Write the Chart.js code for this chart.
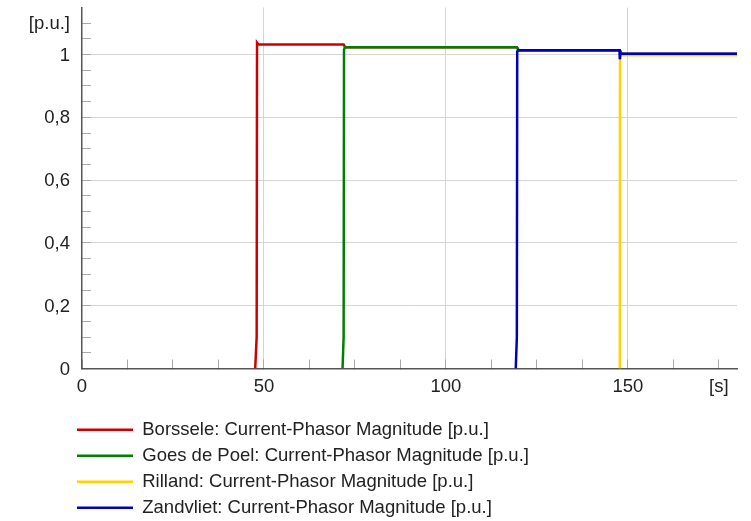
<!DOCTYPE html>
<html>
<head>
<meta charset="utf-8">
<title>Current-Phasor Magnitude</title>
<script src="https://cdn.jsdelivr.net/npm/chart.js@4/dist/chart.umd.min.js"></script>
<style>
  html, body { margin: 0; padding: 0; background: #fff; }
  #wrap { width: 751px; height: 521px; position: relative; }
</style>
</head>
<body>
<div id="wrap"><canvas id="phasorChart"></canvas></div>
<script>
// time [s] / magnitude [p.u.] samples per substation
const borsseleT = [47.6, 48.0, 48.1, 48.5, 60, 71.9, 72.3, 119.5, 120.0, 147.8, 148.3, 180];
const borsseleI = [0, 0.1, 1.038, 1.032, 1.032, 1.032, 1.023, 1.023, 1.014, 1.014, 1.002, 1.002];

const goesT = [71.6, 71.9, 72.0, 72.3, 119.5, 120.0, 147.8, 148.3, 180];
const goesI = [0, 0.1, 1.016, 1.023, 1.023, 1.014, 1.014, 1.002, 1.002];

const rillandT = [147.8, 147.85, 148.0, 180];
const rillandI = [0, 0.99, 0.998, 0.998];

const zandvlietT = [119.2, 119.5, 119.6, 119.9, 147.7, 147.8, 147.9, 148.3, 180];
const zandvlietI = [0, 0.1, 1.01, 1.014, 1.014, 0.985, 1.0, 1.003, 1.003];

const seriesNames = [
  'Borssele: Current-Phasor Magnitude [p.u.]',
  'Goes de Poel: Current-Phasor Magnitude [p.u.]',
  'Rilland: Current-Phasor Magnitude [p.u.]',
  'Zandvliet: Current-Phasor Magnitude [p.u.]'
];

const xTickValues = [0, 12.5, 25, 37.5, 50, 62.5, 75, 87.5, 100, 112.5, 125, 137.5, 150, 162.5, 175];
const xTickLabels = ['0', '', '', '', '50', '', '', '', '100', '', '', '', '150', '', '[s]'];
const xGridValues = [50, 100, 150];

const yTickValues = [0, 0.05, 0.1, 0.15, 0.2, 0.25, 0.3, 0.35, 0.4, 0.45, 0.5, 0.55,
  0.6, 0.65, 0.7, 0.75, 0.8, 0.85, 0.9, 0.95, 1, 1.05, 1.1];
const yTickLabels = ['0', '', '', '', '0,2', '', '', '', '0,4', '', '', '', '0,6', '', '', '',
  '0,8', '', '', '', '1', '', '[p.u.]'];
const yGridValues = [0.2, 0.4, 0.6, 0.8, 1];

const colors = ['#cc0000', '#008000', '#ffd200', '#0000bb'];

function toPoints(ts, vs) {
  return ts.map((t, i) => ({ x: t, y: vs[i] }));
}

const series = [
  toPoints(borsseleT, borsseleI),
  toPoints(goesT, goesI),
  toPoints(rillandT, rillandI),
  toPoints(zandvlietT, zandvlietI)
];

const textFont = { family: "'Liberation Sans', Arial, sans-serif", size: 18.5 };

// legend sits under the plot area (one entry per row), nudged a bit left
const legendIndent = {
  id: 'legendIndent',
  afterLayout(chart) {
    if (chart.legend) chart.legend.left = 69.5;
  }
};

// no extra room for edge labels, the layout padding handles it
function noScalePadding(scale) {
  scale.paddingTop = 0;
  scale.paddingBottom = 0;
  scale.paddingLeft = 0;
  scale.paddingRight = 0;
}

window.onload = () => {
  const ctx = document.getElementById('phasorChart').getContext('2d');
  new Chart(ctx, {
    type: 'line',
    data: {
      datasets: series.map((pts, i) => ({
        label: seriesNames[i],
        data: pts,
        borderColor: colors[i],
        backgroundColor: colors[i],
        borderWidth: 2.5,
        pointRadius: 0,
        tension: 0,
        fill: false,
        // later stations are drawn on top
        order: series.length - i
      }))
    },
    options: {
      responsive: true,
      maintainAspectRatio: false,
      animation: false,
      layout: { padding: { top: 7.5, left: 0, right: 14, bottom: 0 } },
      scales: {
        x: {
          type: 'linear',
          min: 0,
          max: 180,
          afterBuildTicks: scale => { scale.ticks = xTickValues.map(value => ({ value })); },
          afterFit: scale => { scale.height = 44.5; noScalePadding(scale); },
          border: { color: '#555', width: 1.5 },
          grid: {
            drawTicks: true,
            tickLength: -9,
            tickColor: '#aaa',
            color: c => xGridValues.includes(c.tick && c.tick.value) ? '#d4d4d4' : 'rgba(0,0,0,0)'
          },
          ticks: {
            autoSkip: false,
            maxRotation: 0,
            padding: 16.5,
            color: '#222',
            font: textFont,
            callback: (value, index) => xTickLabels[index]
          }
        },
        y: {
          min: 0,
          max: 1.15,
          afterBuildTicks: scale => { scale.ticks = yTickValues.map(value => ({ value })); },
          afterFit: scale => { scale.width = 82; noScalePadding(scale); },
          border: { color: '#555', width: 1.5 },
          grid: {
            drawTicks: true,
            tickLength: -9,
            tickColor: '#aaa',
            color: c => yGridValues.includes(c.tick && c.tick.value) ? '#d4d4d4' : 'rgba(0,0,0,0)'
          },
          ticks: {
            autoSkip: false,
            padding: 21,
            labelOffset: 1,
            color: '#222',
            font: textFont,
            callback: (value, index) => yTickLabels[index]
          }
        }
      },
      plugins: {
        tooltip: { enabled: false },
        legend: {
          position: 'bottom',
          align: 'start',
          fullSize: false,
          maxHeight: 108,
          labels: {
            boxWidth: 56,
            boxHeight: 0,
            padding: 7.5,
            color: '#222',
            font: textFont,
            sort: (a, b) => a.datasetIndex - b.datasetIndex
          }
        }
      }
    },
    plugins: [legendIndent]
  });
};
</script>
</body>
</html>
